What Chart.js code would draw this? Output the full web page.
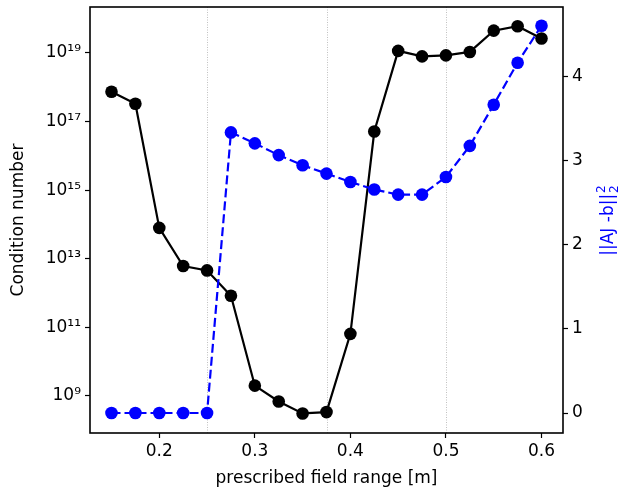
<!DOCTYPE html>
<html>
<head>
<meta charset="utf-8">
<script src="https://cdn.jsdelivr.net/npm/chart.js@4"></script>
<style>
  html, body { margin: 0; padding: 0; background: #fff; }
  canvas { display: block; }
</style>
</head>
<body>
<canvas id="chart" width="618" height="491"></canvas>
<script>
// prescribed field range [m]
const fieldRange = [0.15, 0.175, 0.2, 0.225, 0.25, 0.275, 0.3, 0.325, 0.35, 0.375,
                    0.4, 0.425, 0.45, 0.475, 0.5, 0.525, 0.55, 0.575, 0.6];
// log10 of condition number
const condLog10 = [17.87, 17.52, 13.90, 12.79, 12.66, 11.92, 9.30, 8.84, 8.49, 8.53,
                   10.81, 16.71, 19.06, 18.90, 18.93, 19.03, 19.65, 19.78, 19.42];
// ||AJ - b||_2^2
const residual = [0, 0, 0, 0, 0, 3.34, 3.21, 3.07, 2.95, 2.85,
                  2.75, 2.66, 2.60, 2.60, 2.81, 3.18, 3.67, 4.17, 4.61];

const xTicks = [0.2, 0.3, 0.4, 0.5, 0.6];
const leftExpTicks = [9, 11, 13, 15, 17, 19];
const rightTicks = [0, 1, 2, 3, 4];
const guideLines = [0.25, 0.375, 0.5];

const FONT = "'DejaVu Sans', sans-serif";
const SUP = "⁰¹²³⁴⁵⁶⁷⁸⁹";
function sup(n) { return String(n).split("").map(d => SUP[+d]).join(""); }

const condition = condLog10.map(v => Math.pow(10, v));

// gray dotted guides + frame + right axis label
const extras = {
  id: "extras",
  beforeDatasetsDraw(chart) {
    const {ctx, chartArea: a, scales} = chart;
    ctx.save();
    ctx.strokeStyle = "#b0b0b0";
    ctx.lineWidth = 0.8;
    ctx.setLineDash([1, 1.5]);
    guideLines.forEach(v => {
      const x = Math.round(scales.x.getPixelForValue(v)) + 0.5;
      ctx.beginPath();
      ctx.moveTo(x, a.top);
      ctx.lineTo(x, a.bottom);
      ctx.stroke();
    });
    ctx.restore();
  },
  afterDraw(chart) {
    const {ctx, chartArea: a} = chart;
    ctx.save();
    ctx.strokeStyle = "#000";
    ctx.lineWidth = 1.6;
    ctx.strokeRect(a.left, a.top, a.right - a.left, a.bottom - a.top);

    // right y-axis label, reading bottom to top
    ctx.fillStyle = "#0000ff";
    ctx.translate(a.right + 46, (a.top + a.bottom) / 2 + 1);
    ctx.rotate(-Math.PI / 2);
    ctx.textBaseline = "middle";
    ctx.font = "17px " + FONT;
    const main = "||AJ -b||";
    const wm = ctx.measureText(main).width;
    ctx.font = "12px " + FONT;
    const ws = ctx.measureText("2").width;
    let x0 = -(wm + ws) / 2;
    ctx.font = "17px " + FONT;
    ctx.textAlign = "left";
    ctx.fillText(main, x0, 0);
    ctx.font = "12px " + FONT;
    ctx.fillText("2", x0 + wm + 1, -7);
    ctx.fillText("2", x0 + wm + 1, 6);
    ctx.restore();
  }
};

Chart.defaults.font.family = FONT;
Chart.defaults.font.size = 17;
Chart.defaults.color = "#000";

new Chart(document.getElementById("chart").getContext("2d"), {
  type: "line",
  data: {
    datasets: [
      {
        label: "residual",
        data: fieldRange.map((x, i) => ({x: x, y: residual[i]})),
        yAxisID: "y2",
        borderColor: "#0000ff",
        backgroundColor: "#0000ff",
        borderWidth: 2.2,
        borderDash: [9, 4],
        pointRadius: 6.3,
        pointHoverRadius: 6.3,
        pointBorderWidth: 0,
        tension: 0
      },
      {
        label: "condition",
        data: fieldRange.map((x, i) => ({x: x, y: condition[i]})),
        yAxisID: "y",
        borderColor: "#000",
        backgroundColor: "#000",
        borderWidth: 2.2,
        pointRadius: 6.3,
        pointHoverRadius: 6.3,
        pointBorderWidth: 0,
        tension: 0
      }
    ]
  },
  options: {
    responsive: false,
    animation: false,
    devicePixelRatio: 1,
    layout: { padding: { top: 0, right: 0, left: 0, bottom: 0 } },
    plugins: { legend: { display: false }, tooltip: { enabled: false } },
    scales: {
      x: {
        type: "linear",
        min: 0.1275,
        max: 0.6225,
        afterBuildTicks: s => { s.ticks = xTicks.map(v => ({value: v})); },
        afterFit: s => { s.height = 58; },
        ticks: { callback: v => v.toFixed(1), padding: 3, maxRotation: 0 },
        grid: { drawOnChartArea: false, drawTicks: true, tickLength: 5, color: "#000", tickWidth: 1.2 },
        border: { display: false },
        title: { display: true, text: "prescribed field range [m]", padding: { top: 0, bottom: 2 } }
      },
      y: {
        type: "logarithmic",
        position: "left",
        min: Math.pow(10, 7.92),
        max: Math.pow(10, 20.34),
        afterBuildTicks: s => { s.ticks = leftExpTicks.map(e => ({value: Math.pow(10, e)})); },
        afterFit: s => { s.width = 90; s.paddingTop = 7; s.paddingBottom = 0; },
        ticks: { callback: v => "10" + sup(Math.round(Math.log10(v))), padding: 4 },
        grid: { drawOnChartArea: false, drawTicks: true, tickLength: 5, color: "#000", tickWidth: 1.2 },
        border: { display: false },
        title: { display: true, text: "Condition number", padding: { top: 8, bottom: 0 } }
      },
      y2: {
        type: "linear",
        position: "right",
        min: -0.238,
        max: 4.833,
        afterBuildTicks: s => { s.ticks = rightTicks.map(v => ({value: v})); },
        afterFit: s => { s.width = 55; s.paddingTop = 7; s.paddingBottom = 0; },
        ticks: { callback: v => String(v), padding: 4 },
        grid: { drawOnChartArea: false, drawTicks: true, tickLength: 5, color: "#000", tickWidth: 1.2 },
        border: { display: false }
      }
    }
  },
  plugins: [extras]
});
</script>
</body>
</html>
